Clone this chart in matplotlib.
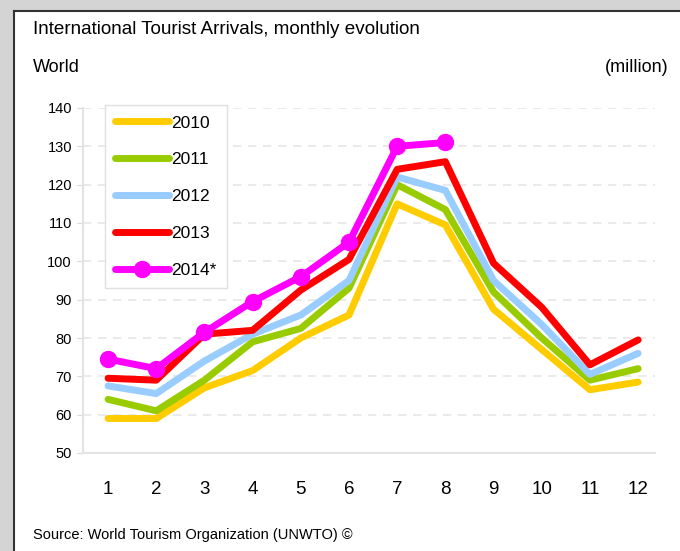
import matplotlib.pyplot as plt
from matplotlib.patches import Rectangle
from matplotlib.lines import Line2D

# ============================================
# DATA
# ============================================

months = [1, 2, 3, 4, 5, 6, 7, 8, 9, 10, 11, 12]

arrivals_2010 = [59, 59, 67, 71.5, 80, 86, 115, 109.5, 87.5, 77, 66.5, 68.5]
arrivals_2011 = [64, 61, 69, 79, 82.5, 93, 120, 113.5, 92, 80, 69, 72]
arrivals_2012 = [67.5, 65.5, 74, 81, 86, 95, 122, 118.5, 95, 83.5, 70.5, 76]
arrivals_2013 = [69.5, 69, 81, 82, 92.5, 100.5, 124, 126, 99.5, 88, 73, 79.5]
arrivals_2014 = [74.5, 72, 81.5, 89.5, 96, 105, 130, 131]

y_ticks = [50, 60, 70, 80, 90, 100, 110, 120, 130, 140]

plt.rcParams['font.family'] = ['Liberation Sans', 'DejaVu Sans']

# ============================================
# FIGURE + FRAME
# ============================================

fig = plt.figure(figsize=(6.8, 5.51), dpi=100)
fig.patch.set_facecolor('#d4d4d4')

W, H = 680.0, 551.0
fig.patches.append(Rectangle((14 / W, 0), 1, 1 - 11 / H,
                             transform=fig.transFigure,
                             facecolor='white', edgecolor='none', zorder=-5))
fig.lines.append(Line2D([14 / W, 14 / W], [0, 1 - 11 / H],
                        transform=fig.transFigure, color='#333333', lw=1.5, zorder=-4))
fig.lines.append(Line2D([14 / W, 1], [1 - 11 / H, 1 - 11 / H],
                        transform=fig.transFigure, color='#333333', lw=1.5, zorder=-4))

ax = fig.add_axes([83 / W, 1 - 453 / H, 572 / W, 345 / H])
ax.set_zorder(2)
ax.patch.set_alpha(0)

# ============================================
# LINES
# ============================================

lw = 5.0
ax.plot(months, arrivals_2010, color='#FFCC00', lw=lw, label='2010', solid_capstyle='round')
ax.plot(months, arrivals_2011, color='#99CC00', lw=lw, label='2011', solid_capstyle='round')
ax.plot(months, arrivals_2012, color='#99CCFF', lw=lw, label='2012', solid_capstyle='round')
ax.plot(months, arrivals_2013, color='#FF0000', lw=lw, label='2013', solid_capstyle='round')
ax.plot(months[:len(arrivals_2014)], arrivals_2014, color='#FF00FF', lw=lw,
        marker='o', markersize=11.5, label='2014*', solid_capstyle='round')

# ============================================
# AXES STYLE
# ============================================

ax.set_xlim(0.48, 12.35)
ax.set_ylim(50, 140)
ax.set_yticks(y_ticks)
ax.set_xticks(months)
ax.tick_params(axis='y', length=4, color='#d9d9d9', labelsize=10.5, pad=4)
ax.tick_params(axis='x', length=0, labelsize=13.5, pad=20)

for side in ['top', 'right']:
    ax.spines[side].set_visible(False)
for side in ['left', 'bottom']:
    ax.spines[side].set_color('#e3e3e3')
    ax.spines[side].set_linewidth(1.5)

ax.yaxis.grid(True, color='#e6e6e6', linestyle=(0, (5, 4)), lw=1.2)
ax.set_axisbelow(True)

leg = ax.legend(loc='upper left', bbox_to_anchor=(22 / 572, 1 + 3 / 345),
                fontsize=12.5, handlelength=3.1, handletextpad=0.1,
                labelspacing=1.25, borderpad=0.6, borderaxespad=0,
                fancybox=False, edgecolor='#e0e0e0', framealpha=1)
leg.get_frame().set_linewidth(1)

# ============================================
# TEXT
# ============================================

fig.text(33 / W, 1 - 30 / H, 'International Tourist Arrivals, monthly evolution',
         fontsize=13.6, va='center', ha='left')
fig.text(33 / W, 1 - 67 / H, 'World', fontsize=13, va='center', ha='left')
fig.text(669 / W, 1 - 67 / H, '(million)', fontsize=13, va='center', ha='right')
fig.text(33 / W, 1 - 535 / H, 'Source: World Tourism Organization (UNWTO) ©',
         fontsize=10.5, va='center', ha='left')

plt.savefig('out.png', dpi=100, facecolor=fig.get_facecolor())
